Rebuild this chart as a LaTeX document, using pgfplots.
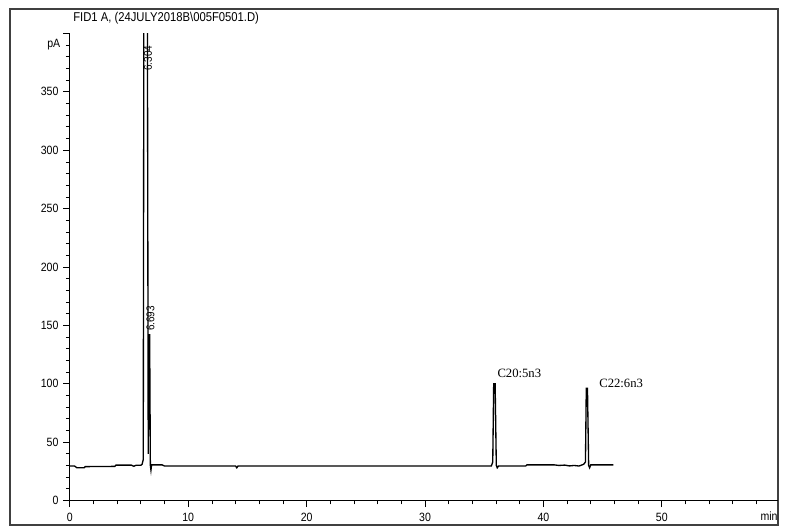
\documentclass[border=0pt]{standalone}
\usepackage{pgfplots}
\pgfplotsset{compat=1.18}
\usepackage{fontspec}
\setmainfont{Liberation Sans}
\newfontfamily\narrowfont[FakeStretch=0.88]{Liberation Sans}
\newfontfamily\serifont{Liberation Serif}
\begin{document}
\begin{tikzpicture}[x=0.75pt,y=0.75pt]
\useasboundingbox (0,0) rectangle (786,532);
\draw[line width=1.1pt, black!75] (10,7) rectangle (778,523);
\node[anchor=west, inner sep=0pt, font=\narrowfont\fontsize{9.6}{10}\selectfont] at (73,514) {FID1 A, (24JULY2018B\textbackslash 005F0501.D)};
\begin{axis}[
  at={(59,27)}, anchor=origin,
  scale only axis, width=531pt, height=350.25pt,
  xmin=0, xmax=59.8, ymin=0, ymax=400,
  axis x line*=bottom, axis y line*=left,
  axis line style={line width=0.7pt, -},
  xtick={0,10,20,30,40,50},
  minor xtick={2,4,...,58},
  ytick={0,50,100,150,200,250,300,350,400},
  yticklabels={0,50,100,150,200,250,300,350,{}},
  minor ytick={10,20,...,390},
  tick align=outside,
  major tick length=5pt, minor tick length=3pt,
  tick style={line width=0.6pt, black},
  /pgf/number format/assume math mode=true,
  ticklabel style={font=\narrowfont\fontsize{9}{9}\selectfont},
  xticklabel style={yshift=-1pt},
  clip mode=individual,
]
\addplot[black, line width=1pt] coordinates {
(0,29.5) (0.4,29.5) (0.6,28) (1.2,28) (1.3,29) (3.8,29.2) (3.9,30.3) (5.2,30.3) (5.4,29.3) (5.6,30.2) (6.0,30.2) (6.1,31) (6.2,35)
(6.25,420) (6.55,420) (6.62,40) (6.68,142) (6.74,142) (6.8,30) (6.85,26) (6.9,30.5) (7.8,30.5) (8.0,29.5)
(14.0,29.5) (14.1,28) (14.2,29.5) (35.6,29.5) (35.72,33) (35.8,100) (35.92,100) (36.02,30) (36.1,28) (36.2,29.5)
(38.5,29.5) (38.6,30.5) (40.9,30.5) (41.3,30) (41.8,30.3) (42.2,29.6) (42.6,30) (43.0,29.5) (43.4,31) (43.55,33)
(43.62,96) (43.72,96) (43.82,30) (43.9,28) (44.0,30.5) (45.9,30.5)
};
\node[rotate=90, anchor=west, inner sep=0pt, font=\narrowfont\fontsize{8.5}{9}\selectfont] at (axis cs:6.6,368) {6.304};
\node[rotate=90, anchor=west, inner sep=0pt, font=\narrowfont\fontsize{8.5}{9}\selectfont] at (axis cs:6.8,145) {6.693};
\node[anchor=south west, inner sep=0pt, font=\serifont\fontsize{9.5}{10}\selectfont] at (axis cs:36.1,105) {C20:5n3};
\node[anchor=south west, inner sep=0pt, font=\serifont\fontsize{9.5}{10}\selectfont] at (axis cs:44.7,96) {C22:6n3};
\node[anchor=east, inner sep=0pt, font=\narrowfont\fontsize{9}{9}\selectfont] at (rel axis cs:0,1) [xshift=-7pt, yshift=-8pt] {pA};
\node[anchor=north east, inner sep=0pt, font=\narrowfont\fontsize{9}{9}\selectfont] at (rel axis cs:1,0) [yshift=-8pt] {min};
\end{axis}
\end{tikzpicture}
\end{document}
